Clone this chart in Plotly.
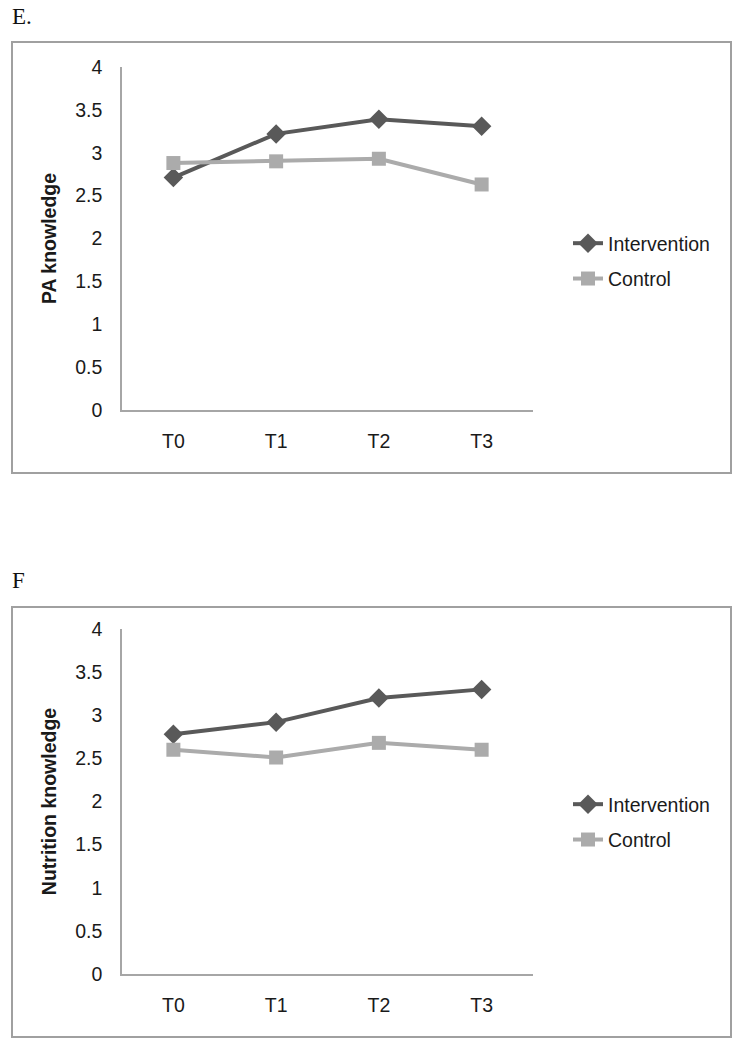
import plotly.graph_objects as go

W, H = 745, 1050

categories = ["T0", "T1", "T2", "T3"]
pa_intervention = [2.71, 3.22, 3.39, 3.31]
pa_control = [2.88, 2.90, 2.93, 2.63]
nut_intervention = [2.78, 2.92, 3.20, 3.30]
nut_control = [2.60, 2.51, 2.68, 2.60]
y_ticks = [0, 0.5, 1, 1.5, 2, 2.5, 3, 3.5, 4]
y_tick_labels = ["0", "0.5", "1", "1.5", "2", "2.5", "3", "3.5", "4"]

DARK = "#595959"
LIGHT = "#ababab"
AXIS = "#a6a6a6"
TXT = "#1a1a1a"
FONT = "Liberation Sans, Arial, sans-serif"
FS = 19.5


def px_x(p):
    return p / W


def px_y(p):
    return 1 - p / H


fig = go.Figure()

panels = [
    ("x", "y", "legend", pa_intervention, pa_control),
    ("x2", "y2", "legend2", nut_intervention, nut_control),
]
for xa, ya, lg, iv, cv in panels:
    fig.add_trace(go.Scatter(
        x=categories, y=iv, name="Intervention", xaxis=xa, yaxis=ya, legend=lg,
        mode="lines+markers", line=dict(color=DARK, width=4),
        marker=dict(symbol="diamond", size=15, color=DARK), legendgroup=lg + "a"))
    fig.add_trace(go.Scatter(
        x=categories, y=cv, name="Control", xaxis=xa, yaxis=ya, legend=lg,
        mode="lines+markers", line=dict(color=LIGHT, width=4),
        marker=dict(symbol="square", size=14, color=LIGHT), legendgroup=lg + "b"))

xcommon = dict(type="category", range=[-0.5, 3.5], showgrid=False, zeroline=False,
               showline=True, linecolor=AXIS, linewidth=1.5, ticks="",
               tickfont=dict(family=FONT, size=FS, color=TXT), ticklabelstandoff=13)
ycommon = dict(range=[0, 4], tickvals=y_ticks, ticktext=y_tick_labels, showgrid=False,
               zeroline=False, showline=True, linecolor=AXIS, linewidth=1.5, ticks="",
               tickfont=dict(family=FONT, size=FS, color=TXT), ticklabelstandoff=14)

legend_common = dict(xanchor="left", yanchor="top", font=dict(family=FONT, size=FS, color=TXT),
                     tracegroupgap=7, bgcolor="rgba(0,0,0,0)")

fig.update_layout(
    width=W, height=H, margin=dict(l=0, r=0, t=0, b=0, autoexpand=False),
    paper_bgcolor="white", plot_bgcolor="white", showlegend=True,
    xaxis=dict(domain=[px_x(122), px_x(533)], anchor="y", **xcommon),
    yaxis=dict(domain=[px_y(410), px_y(67)], anchor="x",
               title=dict(text="<b>PA knowledge</b>", font=dict(family=FONT, size=FS, color=TXT),
                          standoff=13), **ycommon),
    xaxis2=dict(domain=[px_x(122), px_x(533)], anchor="y2", **xcommon),
    yaxis2=dict(domain=[px_y(974), px_y(629)], anchor="x2",
                title=dict(text="<b>Nutrition knowledge</b>", font=dict(family=FONT, size=FS, color=TXT),
                           standoff=13), **ycommon),
    legend=dict(x=px_x(568), y=px_y(224), **legend_common),
    legend2=dict(x=px_x(568), y=px_y(785), **legend_common),
)

# panel frames
for top, bottom in [(42, 473), (607, 1037)]:
    fig.add_shape(type="rect", xref="paper", yref="paper",
                  x0=px_x(12), x1=px_x(731), y0=px_y(bottom), y1=px_y(top),
                  line=dict(color="#a0a0a0", width=2), fillcolor="rgba(0,0,0,0)", layer="below")

# panel letters
for txt, y in [("E.", 16), ("F", 580)]:
    fig.add_annotation(text=txt, xref="paper", yref="paper", x=px_x(10), y=px_y(y),
                       xanchor="left", yanchor="middle", showarrow=False,
                       font=dict(family="Liberation Serif, Times New Roman, serif", size=23, color="#111"))

# pin the figure to the page's top-left corner so page pixels equal figure pixels
pin = ("var gd=document.getElementById('{plot_id}');"
       "document.body.style.margin='0';"
       "gd.style.position='absolute';gd.style.top='0px';gd.style.left='0px';")

fig.write_html("out.html", post_script=pin, config={"displayModeBar": False})
